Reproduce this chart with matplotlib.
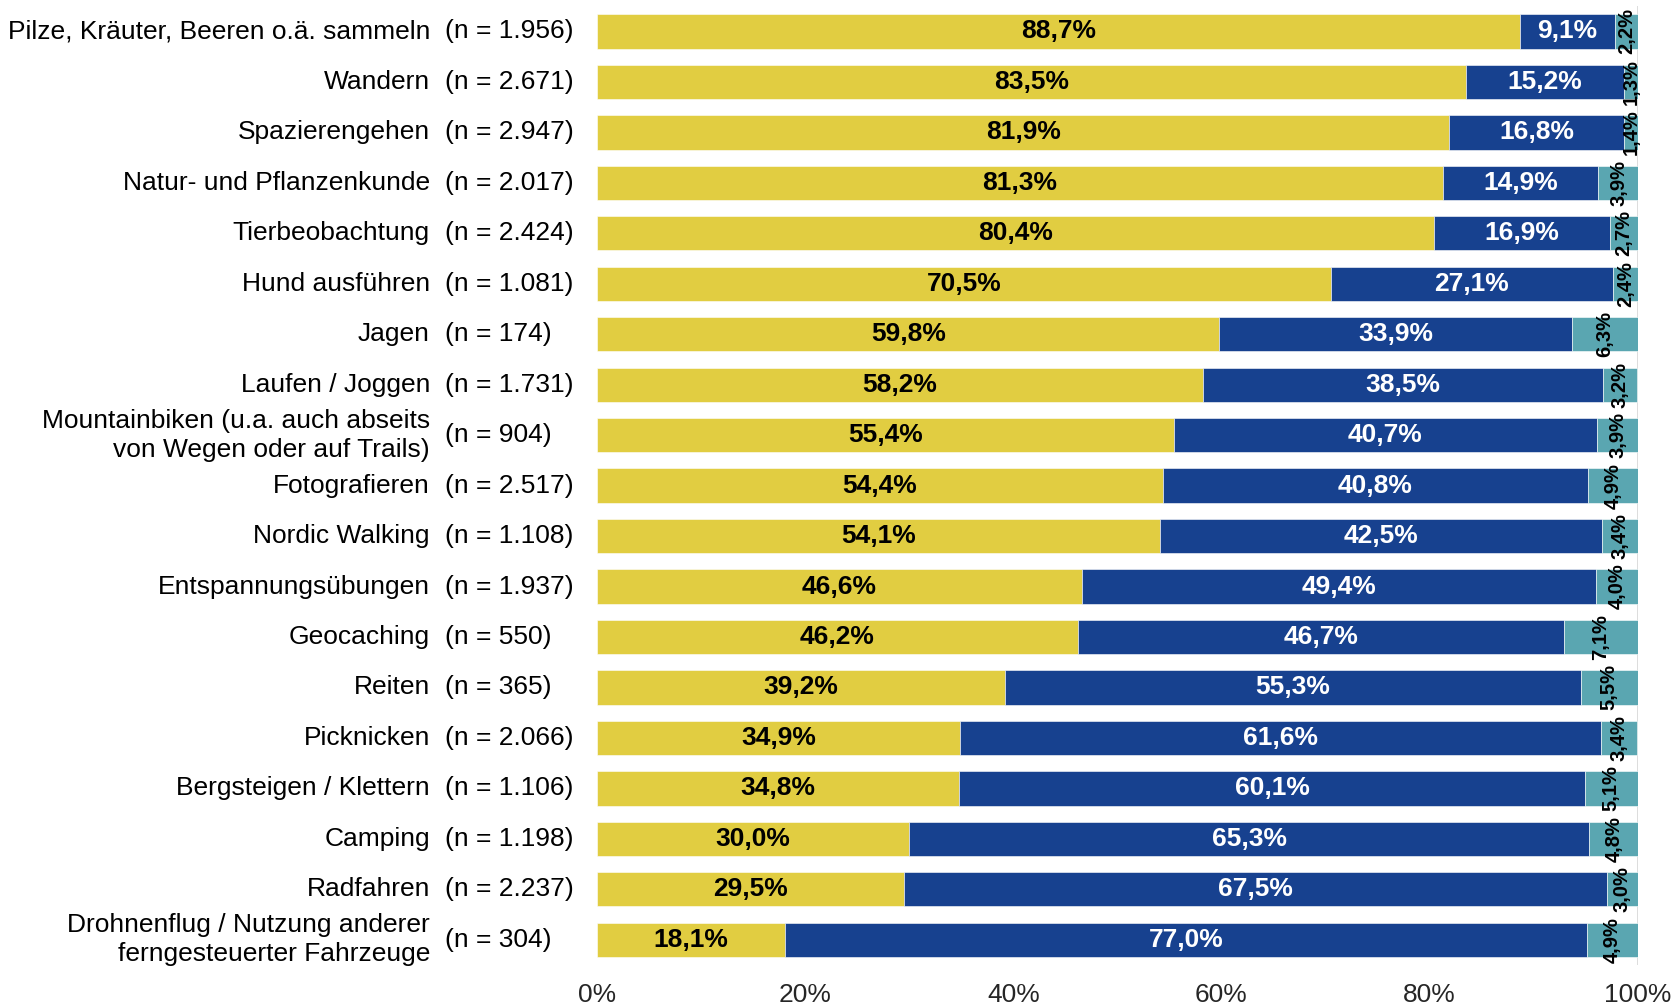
import matplotlib
matplotlib.use("Agg")
import matplotlib.pyplot as plt
import matplotlib.transforms as mtransforms
import numpy as np

plt.rcParams['font.family'] = ['Liberation Sans', 'DejaVu Sans']

# activities (top to bottom) and sample sizes
activities = [
    "Pilze, Kräuter, Beeren o.ä. sammeln",
    "Wandern",
    "Spazierengehen",
    "Natur- und Pflanzenkunde",
    "Tierbeobachtung",
    "Hund ausführen",
    "Jagen",
    "Laufen / Joggen",
    "Mountainbiken (u.a. auch abseits\nvon Wegen oder auf Trails)",
    "Fotografieren",
    "Nordic Walking",
    "Entspannungsübungen",
    "Geocaching",
    "Reiten",
    "Picknicken",
    "Bergsteigen / Klettern",
    "Camping",
    "Radfahren",
    "Drohnenflug / Nutzung anderer\nferngesteuerter Fahrzeuge",
]
n_labels = ["1.956", "2.671", "2.947", "2.017", "2.424", "1.081", "174", "1.731",
            "904", "2.517", "1.108", "1.937", "550", "365", "2.066", "1.106",
            "1.198", "2.237", "304"]

share_yellow = [88.7, 83.5, 81.9, 81.3, 80.4, 70.5, 59.8, 58.2, 55.4, 54.4,
                54.1, 46.6, 46.2, 39.2, 34.9, 34.8, 30.0, 29.5, 18.1]
share_blue = [9.1, 15.2, 16.8, 14.9, 16.9, 27.1, 33.9, 38.5, 40.7, 40.8,
              42.5, 49.4, 46.7, 55.3, 61.6, 60.1, 65.3, 67.5, 77.0]
share_teal = [2.2, 1.3, 1.4, 3.9, 2.7, 2.4, 6.3, 3.2, 3.9, 4.9,
              3.4, 4.0, 7.1, 5.5, 3.4, 5.1, 4.8, 3.0, 4.9]

c_yellow = "#E1CD41"
c_blue = "#17418F"
c_teal = "#5AA6B1"

fig = plt.figure(figsize=(16.75, 10.06), dpi=100)
ax = fig.add_axes([0.3564, 0.0408, 0.6214, 0.953])

y = np.arange(len(activities))
yel = np.array(share_yellow)
blu = np.array(share_blue)
tea = np.array(share_teal)
h = 0.68

ax.barh(y, yel, height=h, color=c_yellow, edgecolor="white", linewidth=0.4)
ax.barh(y, blu, left=yel, height=h, color=c_blue, edgecolor="white", linewidth=0.4)
ax.barh(y, tea, left=yel + blu, height=h, color=c_teal, edgecolor="white", linewidth=0.4)

def fmt(v):
    return f"{v:.1f}".replace(".", ",") + "%"

for i in range(len(y)):
    ax.text(yel[i] / 2, y[i], fmt(yel[i]), ha="center", va="center",
            fontsize=19, fontweight="bold", color="black")
    ax.text(yel[i] + blu[i] / 2, y[i], fmt(blu[i]), ha="center", va="center",
            fontsize=19, fontweight="bold", color="white")
    ax.text(yel[i] + blu[i] + tea[i] / 2, y[i], fmt(tea[i]), ha="center",
            va="center", fontsize=14.5, fontweight="bold", color="black",
            rotation=90, rotation_mode="anchor")

ax.axvline(100, color="#D9D9D9", linewidth=2, zorder=0)

ax.set_xlim(0, 100)
ax.set_ylim(len(y) - 0.5, -0.5)
ax.set_xticks([0, 20, 40, 60, 80, 100])
ax.set_xticklabels(["0%", "20%", "40%", "60%", "80%", "100%"], fontsize=19,
                   color="#262626")
ax.tick_params(axis="x", length=0, pad=13)
ax.set_yticks([])
for s in ax.spines.values():
    s.set_visible(False)

tr = mtransforms.blended_transform_factory(fig.transFigure, ax.transData)
for i in range(len(y)):
    fig.text(0.2567, y[i], activities[i], transform=tr, ha="right",
             va="center", fontsize=19, linespacing=1.25, multialignment="right")
    fig.text(0.2657, y[i], f"(n = {n_labels[i]})", transform=tr, ha="left",
             va="center", fontsize=19)

fig.savefig("out.png", dpi=100)
